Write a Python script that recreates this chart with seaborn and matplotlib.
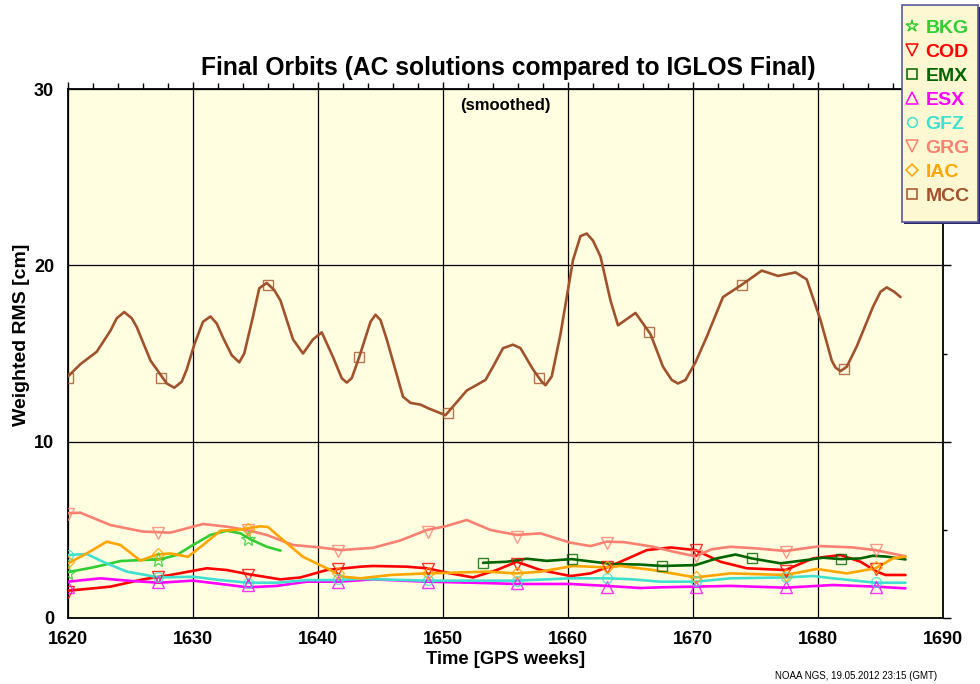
import matplotlib
matplotlib.use("Agg")

import matplotlib.pyplot as plt
import seaborn as sns
from matplotlib.lines import Line2D
from matplotlib.patches import Rectangle
from matplotlib.ticker import MultipleLocator

sns.set_theme(style="white")
plt.rcParams['font.family'] = ['Liberation Sans', 'DejaVu Sans']
plt.rcParams['font.weight'] = 'bold'
plt.rcParams['text.color'] = 'black'
plt.rcParams['axes.labelcolor'] = 'black'
plt.rcParams['xtick.color'] = 'black'
plt.rcParams['ytick.color'] = 'black'

# series: (GPS week, weighted RMS in cm)
bkg_wk = [1620.0, 1622.0, 1624.2, 1626.0, 1627.3, 1628.7, 1630.0, 1631.4, 1632.7, 1633.8, 1634.6, 1635.9, 1637.0]
bkg_rms = [2.6, 2.87, 3.23, 3.29, 3.32, 3.57, 4.14, 4.71, 4.95, 4.8, 4.46, 4.04, 3.82]

cod_wk = [1620.0, 1622.0, 1623.4, 1626.0, 1628.2, 1631.1, 1632.7, 1634.3, 1637.0, 1638.6, 1640.7, 1643.4,
          1644.4, 1647.1, 1648.7, 1650.6, 1652.4, 1654.3, 1655.9, 1657.8, 1660.2, 1661.8, 1663.1, 1664.2,
          1666.3, 1668.2, 1670.2, 1672.2, 1674.3, 1677.4, 1679.6, 1681.8, 1683.4, 1684.7, 1685.4, 1687.0]
cod_rms = [1.55, 1.68, 1.78, 2.19, 2.44, 2.82, 2.72, 2.5, 2.19, 2.3, 2.72, 2.91,
           2.95, 2.91, 2.82, 2.53, 2.3, 2.72, 3.19, 2.72, 2.38, 2.53, 2.87, 3.19,
           3.85, 4.0, 3.85, 3.19, 2.82, 2.72, 3.38, 3.57, 3.19, 2.63, 2.44, 2.44]

emx_wk = [1653.2, 1655.1, 1656.7, 1658.3, 1660.3, 1662.0, 1663.6, 1665.8, 1667.5, 1670.2, 1671.9,
          1673.4, 1674.7, 1677.0, 1679.1, 1680.4, 1681.8, 1683.4, 1684.4, 1685.5, 1687.0]
emx_rms = [3.13, 3.19, 3.36, 3.24, 3.34, 3.19, 3.06, 3.03, 2.95, 3.0, 3.38,
           3.6, 3.38, 3.1, 3.29, 3.42, 3.34, 3.38, 3.53, 3.48, 3.32]

esx_wk = [1620.0, 1622.6, 1624.7, 1627.3, 1630.0, 1632.2, 1634.4, 1636.7, 1639.1, 1641.6, 1644.4, 1648.7,
          1652.4, 1655.9, 1660.2, 1663.1, 1665.8, 1667.4, 1670.2, 1673.0, 1677.4, 1681.2, 1684.6, 1687.0]
esx_rms = [2.06, 2.25, 2.12, 2.0, 2.12, 1.93, 1.74, 1.82, 2.06, 2.06, 2.19, 2.06,
           2.0, 1.93, 1.93, 1.82, 1.7, 1.74, 1.78, 1.82, 1.72, 1.87, 1.78, 1.68]

gfz_wk = [1620.0, 1621.5, 1622.8, 1624.7, 1627.3, 1630.0, 1632.2, 1634.4, 1636.7, 1639.1, 1641.6, 1643.4, 1648.7,
          1652.4, 1655.9, 1660.2, 1663.1, 1665.0, 1667.4, 1670.2, 1673.0, 1677.4, 1679.6, 1681.2, 1684.6, 1687.0]
gfz_rms = [3.57, 3.63, 3.19, 2.63, 2.3, 2.34, 2.15, 2.0, 2.0, 2.15, 2.15, 2.22, 2.12,
           2.12, 2.12, 2.25, 2.25, 2.2, 2.06, 2.06, 2.25, 2.3, 2.38, 2.25, 2.0, 2.0]

grg_wk = [1620.0, 1621.0, 1623.4, 1626.0, 1628.2, 1630.0, 1630.8, 1632.7, 1634.3, 1635.9, 1638.0, 1640.2,
          1641.8, 1644.4, 1646.6, 1648.7, 1650.2, 1651.9, 1653.8, 1655.9, 1657.8, 1660.2, 1661.8, 1663.1,
          1664.5, 1666.8, 1668.5, 1670.2, 1671.5, 1673.0, 1675.0, 1677.4, 1680.2, 1682.8, 1684.6, 1687.0]
grg_rms = [5.94, 5.97, 5.27, 4.9, 4.84, 5.18, 5.33, 5.18, 4.99, 4.71, 4.14, 4.0,
           3.85, 3.98, 4.4, 4.99, 5.2, 5.56, 4.99, 4.71, 4.8, 4.27, 4.08, 4.33,
           4.3, 4.04, 3.75, 3.5, 3.9, 4.04, 3.95, 3.8, 4.08, 4.0, 3.85, 3.5]

iac_wk = [1620.0, 1621.5, 1623.1, 1624.2, 1625.8, 1627.1, 1628.2, 1629.6, 1630.8, 1632.2, 1633.8, 1635.4,
          1636.0, 1637.5, 1638.8, 1640.7, 1642.0, 1643.4, 1645.8, 1648.7, 1650.8, 1653.5, 1655.9, 1657.8,
          1660.4, 1663.1, 1664.2, 1666.8, 1670.2, 1673.0, 1677.4, 1679.9, 1682.3, 1684.6, 1686.0, 1687.0]
iac_rms = [3.1, 3.66, 4.33, 4.14, 3.25, 3.6, 3.66, 3.47, 4.14, 4.95, 5.02, 5.2,
           5.16, 4.24, 3.47, 2.82, 2.34, 2.25, 2.44, 2.53, 2.57, 2.63, 2.53, 2.63,
           2.95, 2.87, 2.95, 2.72, 2.3, 2.53, 2.44, 2.78, 2.53, 2.82, 3.38, 3.48]

mcc_wk = [1620.0, 1621.0, 1622.3, 1623.4, 1623.9, 1624.5, 1625.1, 1625.5, 1626.6, 1627.4, 1627.9, 1628.5,
          1629.1, 1629.5, 1630.1, 1630.8, 1631.4, 1631.9, 1632.4, 1633.1, 1633.7, 1634.1, 1634.8, 1635.3,
          1635.9, 1636.5, 1637.0, 1638.0, 1638.8, 1639.6, 1640.3, 1641.2, 1641.9, 1642.3, 1642.7, 1643.3,
          1644.2, 1644.6, 1645.0, 1645.5, 1646.8, 1647.4, 1648.2, 1648.8, 1650.2, 1651.9, 1653.4, 1654.0,
          1654.8, 1655.6, 1656.2, 1657.2, 1657.9, 1658.2, 1658.7, 1659.4, 1660.4, 1661.0, 1661.5, 1662.0,
          1662.6, 1663.4, 1664.0, 1665.4, 1666.6, 1667.6, 1668.3, 1668.8, 1669.4, 1670.2, 1671.1, 1672.4,
          1673.9, 1675.5, 1676.8, 1678.2, 1679.1, 1680.2, 1681.1, 1681.4, 1681.8, 1682.3, 1683.1, 1684.4,
          1685.0, 1685.5, 1686.1, 1686.6]
mcc_rms = [13.7, 14.4, 15.1, 16.3, 17.0, 17.35, 17.0, 16.5, 14.6, 13.8, 13.3, 13.06,
           13.4, 14.1, 15.5, 16.8, 17.1, 16.7, 15.9, 14.9, 14.5, 15.0, 17.1, 18.7,
           19.0, 18.6, 18.0, 15.8, 15.0, 15.8, 16.2, 14.8, 13.6, 13.35, 13.6, 14.8,
           16.8, 17.2, 16.9, 15.8, 12.55, 12.2, 12.1, 11.9, 11.5, 12.9, 13.5, 14.25,
           15.3, 15.5, 15.3, 14.1, 13.4, 13.2, 13.7, 16.1, 20.3, 21.66, 21.8, 21.4,
           20.5, 18.0, 16.6, 17.3, 16.1, 14.25, 13.5, 13.3, 13.5, 14.5, 15.95, 18.2,
           18.9, 19.7, 19.4, 19.6, 19.2, 16.9, 14.6, 14.2, 14.0, 14.25, 15.4, 17.65,
           18.5, 18.75, 18.5, 18.2]

# symbol positions
mark_wk = [1620.0, 1627.2, 1634.4, 1641.6, 1648.8, 1655.9, 1663.1, 1670.2, 1677.4, 1684.6]
bkg_mark = [2.53, 3.29, 4.46]
cod_mark = [1.5, 2.3, 2.45, 2.8, 2.8, 3.05, 2.87, 3.85, 2.65, 2.8]
esx_mark = [1.78, 2.06, 1.87, 2.06, 2.06, 1.96, 1.78, 1.78, 1.74, 1.78]
gfz_mark = [3.57, 2.3, 2.0, 2.19, 2.15, 2.12, 2.25, 2.12, 2.3, 2.06]
grg_mark = [5.9, 4.8, 5.0, 3.8, 4.9, 4.61, 4.27, 3.5, 3.77, 3.85]
iac_mark = [3.19, 3.63, 5.02, 2.53, 2.57, 2.53, 2.87, 2.3, 2.44, 2.87]
emx_mark_wk = [1653.2, 1660.3, 1667.5, 1674.7, 1681.8]
emx_mark = [3.13, 3.34, 2.95, 3.38, 3.34]
mcc_mark_wk = [1620.0, 1627.4, 1636.0, 1643.3, 1650.4, 1657.7, 1666.5, 1673.9, 1682.1]
mcc_mark = [13.6, 13.6, 18.9, 14.8, 11.6, 13.6, 16.2, 18.9, 14.1]

series = [
    ('BKG', '#33cc33', '*', bkg_wk, bkg_rms, mark_wk[:3], bkg_mark, 11),
    ('COD', '#ff0000', 'v', cod_wk, cod_rms, mark_wk, cod_mark, 8),
    ('EMX', '#006400', 's', emx_wk, emx_rms, emx_mark_wk, emx_mark, 7),
    ('ESX', '#ff00ff', '^', esx_wk, esx_rms, mark_wk, esx_mark, 8),
    ('GFZ', '#40e0d0', 'o', gfz_wk, gfz_rms, mark_wk, gfz_mark, 7),
    ('GRG', '#fa8072', 'v', grg_wk, grg_rms, mark_wk, grg_mark, 8),
    ('IAC', '#ffa500', 'D', iac_wk, iac_rms, mark_wk, iac_mark, 6.5),
    ('MCC', '#a0522d', 's', mcc_wk, mcc_rms, mcc_mark_wk, mcc_mark, 7),
]

fig = plt.figure(figsize=(9.8, 6.84), dpi=100)
ax = fig.add_axes([68 / 980, 66 / 684, 875 / 980, 529 / 684])
ax.set_facecolor('#fffee0')

for name, color, marker, wk, rms, mwk, mval, ms in series:
    sns.lineplot(x=wk, y=rms, color=color, linewidth=1.9, ax=ax, sort=False, zorder=3)
    ax.plot(mwk, mval, linestyle='none', marker=marker, markersize=ms,
            markerfacecolor='none', markeredgecolor=color, markeredgewidth=1.0, alpha=0.8, zorder=4)

ax.set_xlim(1620, 1690)
ax.set_ylim(0, 30)
ax.xaxis.set_major_locator(MultipleLocator(10))
ax.xaxis.set_minor_locator(MultipleLocator(2))
ax.yaxis.set_major_locator(MultipleLocator(10))
ax.yaxis.set_minor_locator(MultipleLocator(5))
ax.tick_params(which='both', direction='out', top=True, right=True, color='black', width=1.0)
ax.tick_params(axis='x', which='major', length=5, labelsize=13, pad=4)
ax.tick_params(axis='x', which='minor', length=4)
ax.tick_params(axis='y', which='major', length=6, labelsize=13, pad=4)
ax.tick_params(axis='y', which='minor', length=3)
ax.grid(True, which='major', color='black', linewidth=0.9)
for sp in ax.spines.values():
    sp.set_color('black')
    sp.set_linewidth(1.3)

ax.set_xlabel('Time [GPS weeks]', fontsize=13.2, fontweight='bold')
ax.set_ylabel('Weighted RMS [cm]', fontsize=14, fontweight='bold')
ax.xaxis.set_label_coords(0.5, -0.062)
ax.yaxis.set_label_coords(-0.044, 0.535)
ax.set_title('Final Orbits (AC solutions compared to IGLOS Final)', fontsize=17.7,
             fontweight='bold', pad=10, x=0.503)
ax.text(0.5, 0.968, '(smoothed)', transform=ax.transAxes, ha='center', va='center',
        fontsize=12, fontweight='bold')

# legend box with a small drop shadow, drawn in figure pixels
fig.patches.append(Rectangle((904 / 980, 1 - 224 / 684), 76 / 980, 217 / 684, transform=fig.transFigure,
                             facecolor='#2a2a6a', edgecolor='none', zorder=5))
fig.patches.append(Rectangle((902 / 980, 1 - 222 / 684), 76 / 980, 217 / 684, transform=fig.transFigure,
                             facecolor='#fdf8d2', edgecolor='#5a5a9a', linewidth=1.2, zorder=6))

handles = [Line2D([], [], linestyle='none', marker=m, markersize=min(ms, 9), markerfacecolor='none',
                  markeredgecolor=c, markeredgewidth=1.1)
           for _, c, m, _, _, _, _, ms in series]
labels = [s[0] for s in series]
leg = fig.legend(handles, labels, loc='upper left', bbox_to_anchor=(904 / 980, 1 - 19 / 684), borderaxespad=0,
                 labelcolor='markeredgecolor', prop={'weight': 'bold', 'size': 14},
                 handlelength=0.8, handletextpad=0.3, labelspacing=0.33, borderpad=0,
                 frameon=False)
leg.set_zorder(7)

fig.text(937 / 980, 1 - 676 / 684, 'NOAA NGS, 19.05.2012 23:15 (GMT)', ha='right', va='center',
         fontsize=7, fontweight='normal')

fig.savefig('out.png', dpi=100)
plt.close(fig)
